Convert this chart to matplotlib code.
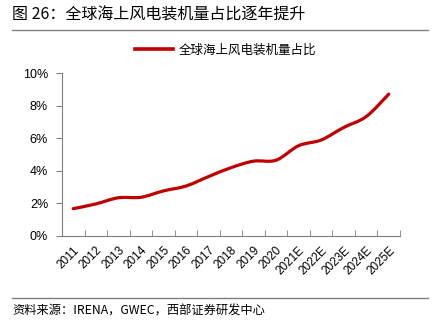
import numpy as np
import matplotlib
matplotlib.use('Agg')
import matplotlib.pyplot as plt
from matplotlib.path import Path
from matplotlib.patches import PathPatch

plt.rcParams['font.family'] = ['Liberation Sans', 'Noto Sans CJK SC', 'DejaVu Sans']

# data
years = ['2011', '2012', '2013', '2014', '2015', '2016', '2017', '2018', '2019',
         '2020', '2021E', '2022E', '2023E', '2024E', '2025E']
share = [1.68, 1.97, 2.35, 2.38, 2.77, 3.07, 3.65, 4.2, 4.6,
         4.66, 5.55, 5.9, 6.67, 7.34, 8.72]

title = '图 26：全球海上风电装机量占比逐年提升'
series_name = '全球海上风电装机量占比'
source = '资料来源：IRENA，GWEC，西部证券研发中心'

red = '#C00000'
grey = '#808080'

fig = plt.figure(figsize=(4.34, 3.29), dpi=100)
ax = fig.add_axes([62/434, 1-236/329, 338/434, (236-73.3)/329])

# smooth line through the points (Catmull-Rom -> bezier)
x = np.arange(len(share), dtype=float)
y = np.array(share)
verts = [(x[0], y[0])]
codes = [Path.MOVETO]
for i in range(len(x)-1):
    p0 = (x[max(i-1, 0)], y[max(i-1, 0)])
    p1 = (x[i], y[i])
    p2 = (x[i+1], y[i+1])
    p3 = (x[min(i+2, len(x)-1)], y[min(i+2, len(x)-1)])
    c1 = (p1[0] + (p2[0]-p0[0])/6, p1[1] + (p2[1]-p0[1])/6)
    c2 = (p2[0] - (p3[0]-p1[0])/6, p2[1] - (p3[1]-p1[1])/6)
    verts += [c1, c2, p2]
    codes += [Path.CURVE4]*3
ax.add_patch(PathPatch(Path(verts, codes), fill=False, edgecolor=red,
                       lw=2.3, capstyle='round', joinstyle='round'))
ax.plot([], [], color=red, lw=2.6, label=series_name)

ax.set_xlim(-0.5, len(years)-0.5)
ax.set_ylim(0, 10)
ax.set_yticks(range(0, 11, 2))
ax.set_yticklabels([f'{v}%' for v in range(0, 11, 2)], fontsize=9)
ax.set_xticks(x)
ax.set_xticklabels(years, rotation=45, ha='right', rotation_mode='anchor', fontsize=8.5)
ax.set_xticks(np.arange(-0.5, len(years)), minor=True)
ax.tick_params(axis='x', which='major', length=0, pad=6)
ax.tick_params(axis='x', which='minor', direction='in', length=4, color=grey)
ax.tick_params(axis='y', direction='out', length=4, color=grey, pad=6)
for s in ['top', 'right']:
    ax.spines[s].set_visible(False)
for s in ['left', 'bottom']:
    ax.spines[s].set_color(grey)
    ax.spines[s].set_linewidth(0.8)

leg = fig.legend(loc='center', bbox_to_anchor=(226/434, 1-50/329), frameon=False,
                 handlelength=3.0, handletextpad=0.5,
                 prop={'family': ['Noto Sans CJK SC'], 'size': 9})

fig.text(12/434, 1-15/329, title, fontsize=11.5, va='center', ha='left',
         family=['Noto Sans CJK SC', 'DejaVu Sans'])
fig.add_artist(plt.Line2D([12/434, 428/434], [1-30/329, 1-30/329], color=grey, lw=1))
fig.add_artist(plt.Line2D([12/434, 428/434], [1-298/329, 1-298/329], color=grey, lw=1))
fig.text(12/434, 1-311/329, source, fontsize=8.8, va='center', ha='left',
         family=['Noto Sans CJK SC', 'DejaVu Sans'])

fig.savefig('out.png', dpi=100)
